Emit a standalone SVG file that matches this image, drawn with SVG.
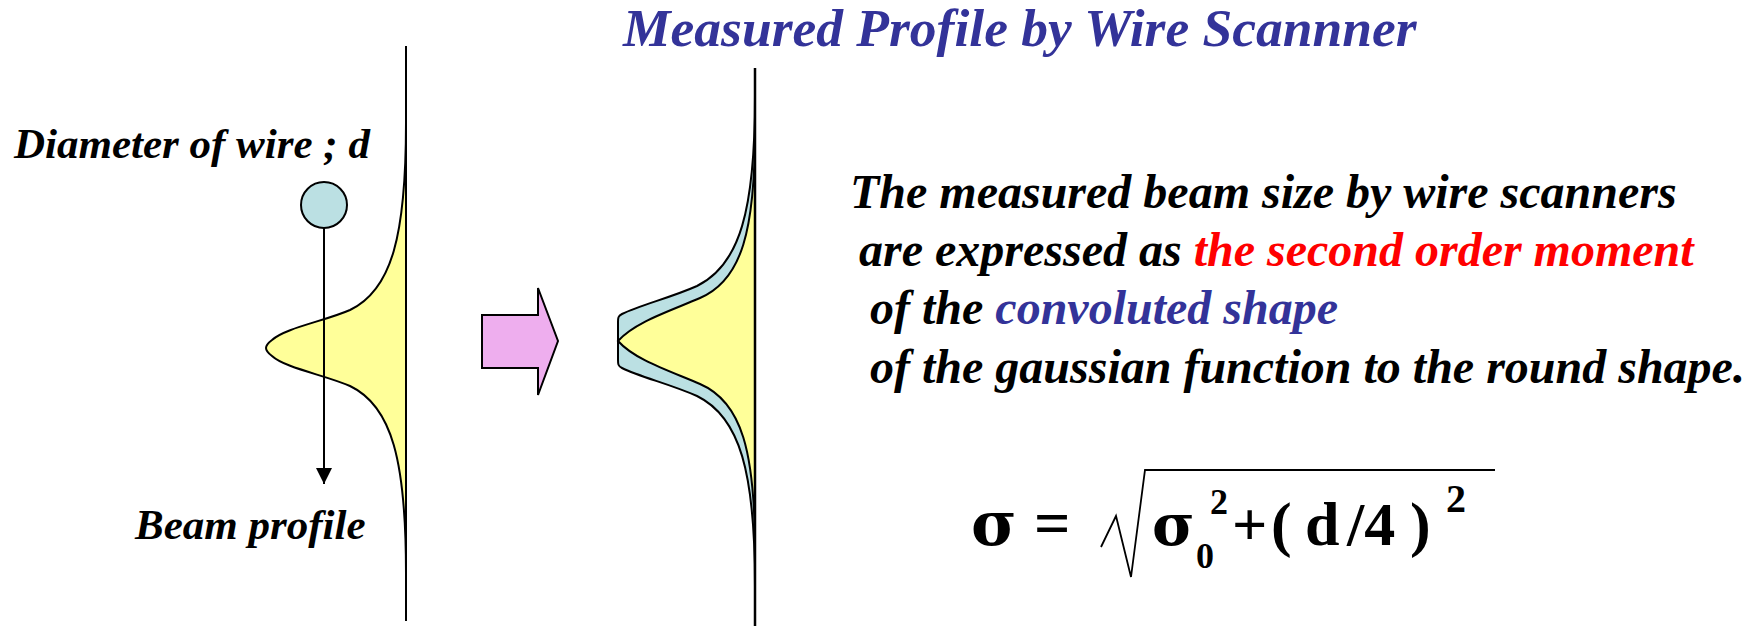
<svg xmlns="http://www.w3.org/2000/svg" width="1758" height="626" viewBox="0 0 1758 626">
<style>
  .bi { font-family: "Liberation Serif", "Times New Roman", serif; font-weight: bold; font-style: italic; }
  .b { font-family: "Liberation Serif", "Times New Roman", serif; font-weight: bold; }
  .sg { font-family: "DejaVu Serif", "Liberation Serif", serif; font-weight: bold; }
  .ln { stroke: #000; stroke-width: 2; fill: none; }
  .yel { fill: #FFFF99; stroke: #000; stroke-width: 2; }
  .blu { fill: #BBE0E3; stroke: #000; stroke-width: 2; }
</style>
<defs>
  <marker id="ah" viewBox="0 0 16 16" refX="16" refY="8" markerWidth="16" markerHeight="16" markerUnits="userSpaceOnUse" orient="auto">
    <path d="M0,0 L16,8 L0,16 Z" fill="#000"/>
  </marker>
</defs>
<rect width="1758" height="626" fill="#fff"/>

<g id="title">
  <text class="bi" x="623" y="46" font-size="53.5" fill="#333399">Measured Profile by Wire Scannner</text>
</g>

<g id="left-profile">
  <path class="yel" d="M406,123 C406,235 392,290 350,310 C325,321 285,328 272,340 C264,346 264,350 272,356 C285,368 325,375 350,386 C392,406 406,461 406,573 Z"/>
  <line class="ln" x1="406" y1="46" x2="406" y2="621"/>
</g>

<g id="wire">
  <circle cx="324" cy="205" r="23" fill="#BBE0E3" stroke="#000" stroke-width="2"/>
</g>

<g id="label-diameter">
  <text class="bi" x="14" y="158" font-size="43" fill="#000">Diameter of wire ; d</text>
</g>

<g id="label-beam">
  <text class="bi" x="135" y="539" font-size="43" fill="#000">Beam profile</text>
</g>

<g id="connectors">
  <line x1="324" y1="228" x2="324" y2="484" stroke="#000" stroke-width="2" marker-end="url(#ah)"/>
</g>

<g id="transform-arrow">
  <path d="M482,315 L538,315 L538,288 L558,341 L538,395 L538,368 L482,368 Z" fill="#EEAEEE" stroke="#000" stroke-width="2"/>
</g>

<g id="right-profile">
  <path class="blu" d="M755,96 C755,210 740,265 697,286 C670,298 640,305 622,314 C618,316 618,318 618,322 L618,360 C618,364 618,366 622,368 C640,377 670,384 697,396 C740,417 755,472 755,586 Z"/>
  <path class="yel" d="M755,130 C755,230 742,280 700,298 C670,311 635,322 618,341 C635,360 670,371 700,384 C742,402 755,452 755,552 Z"/>
  <line x1="755" y1="68" x2="755" y2="626" stroke="#000" stroke-width="2.5"/>
</g>

<g id="description">
  <text class="bi" font-size="48" fill="#000">
    <tspan x="850" y="208">The measured beam size by wire scanners</tspan>
    <tspan x="859" y="266">are expressed as <tspan fill="#FF0000">the second order moment</tspan></tspan>
    <tspan x="870" y="324">of the <tspan fill="#333399">convoluted shape</tspan></tspan>
    <tspan x="870" y="383">of the gaussian function to the round shape.</tspan>
  </text>
</g>

<g id="formula">
  <text class="sg" font-size="62" fill="#000" x="971" y="545">σ</text>
  <text class="b" font-size="64" fill="#000" x="1034" y="545">=</text>
  <polyline points="1101,547 1116,516 1131,577 1145,470 1495,470" fill="none" stroke="#000" stroke-width="1.8"/>
  <text class="sg" font-size="58" fill="#000" x="1152" y="545">σ</text>
  <text class="b" font-size="36" fill="#000" x="1196" y="568">0</text>
  <text class="b" font-size="36" fill="#000" x="1210" y="514">2</text>
  <text class="b" font-size="62" fill="#000" x="1232" y="545">+</text>
  <text class="b" font-size="62" fill="#000" x="1271" y="545">(</text>
  <text class="b" font-size="62" fill="#000" x="1305" y="545">d</text>
  <text class="b" font-size="62" fill="#000" x="1347" y="545">/4</text>
  <text class="b" font-size="62" fill="#000" x="1410" y="545">)</text>
  <text class="b" font-size="40" fill="#000" x="1446" y="512">2</text>
</g>
</svg>
